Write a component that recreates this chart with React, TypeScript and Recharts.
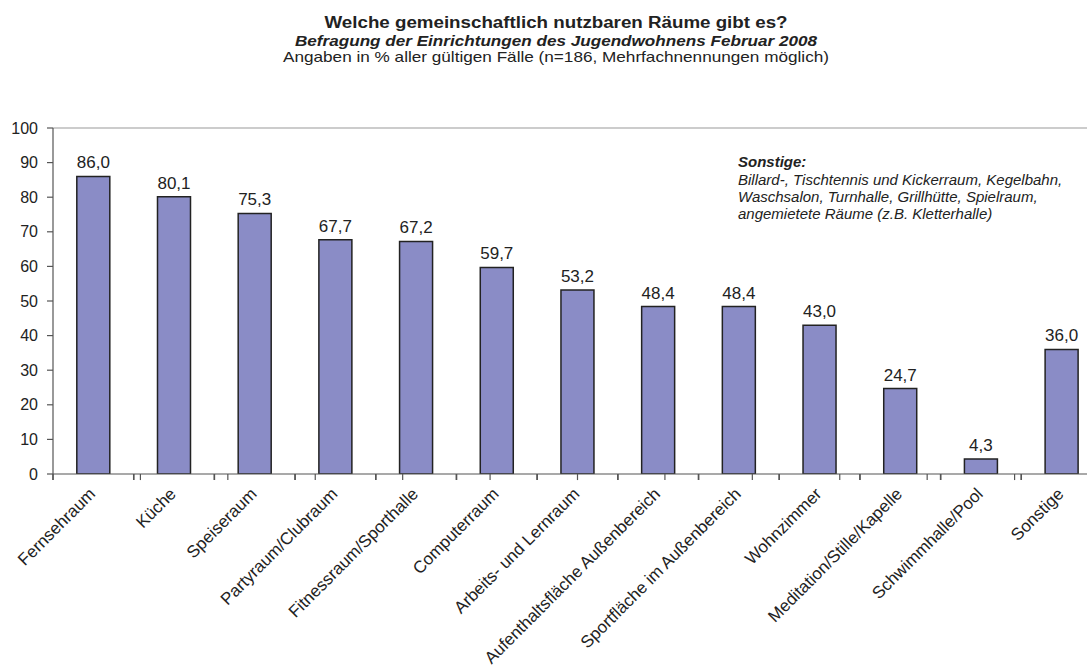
import React from 'react';
import { BarChart, Bar, XAxis, YAxis, LabelList, ReferenceLine } from 'recharts';

const categories = [
  'Fernsehraum',
  'Küche',
  'Speiseraum',
  'Partyraum/Clubraum',
  'Fitnessraum/Sporthalle',
  'Computerraum',
  'Arbeits- und Lernraum',
  'Aufenthaltsfläche Außenbereich',
  'Sportfläche im Außenbereich',
  'Wohnzimmer',
  'Meditation/Stille/Kapelle',
  'Schwimmhalle/Pool',
  'Sonstige',
];
const values = [86.0, 80.1, 75.3, 67.7, 67.2, 59.7, 53.2, 48.4, 48.4, 43.0, 24.7, 4.3, 36.0];
const yTicks = [0, 10, 20, 30, 40, 50, 60, 70, 80, 90, 100];
const edgeTicks = [0, 1, 2, 3, 4, 5, 6, 7, 8, 9, 10, 11, 12, 13];

const titleLines = [
  'Welche gemeinschaftlich nutzbaren Räume gibt es?',
  'Befragung der Einrichtungen des Jugendwohnens Februar 2008',
  'Angaben in % aller gültigen Fälle (n=186, Mehrfachnennungen möglich)',
];
const noteTitle = 'Sonstige:';
const noteLines = [
  'Billard-, Tischtennis und Kickerraum, Kegelbahn,',
  'Waschsalon, Turnhalle, Grillhütte, Spielraum,',
  'angemietete Räume (z.B. Kletterhalle)',
];

const data = categories.map((name, i) => ({ name, value: values[i] }));

const FONT = '"Liberation Sans", Arial, Helvetica, sans-serif';
const TEXT = '#222222';
const AXIS = '#555555';

const CHART_W = 1110;
const MARGIN = { top: 128, right: 8, left: 0, bottom: 0 };
const YAXIS_W = 53;
const HALF_BAND = (CHART_W - MARGIN.left - MARGIN.right - YAXIS_W) / categories.length / 2;

const XTick = (props: any) => {
  const { payload } = props;
  const x = Number(props.x);
  const y = Number(props.y);
  return (
    <g>
      <path
        d={`M${x - HALF_BAND},${y}v6M${x + HALF_BAND},${y}v6`}
        stroke={AXIS}
        strokeWidth={1.4}
        fill="none"
      />
      <g transform={`translate(${x + 3},${y + 21})`}>
        <text
          x={0}
          y={0}
          textAnchor="end"
          transform="rotate(-45)"
          fontSize={17}
          fontFamily={FONT}
          fill={TEXT}
        >
          {payload.value}
        </text>
      </g>
    </g>
  );
};

const fmt = (v: any) => Number(v).toFixed(1).replace('.', ',');

export default function App() {
  return (
    <div
      style={{
        position: 'absolute',
        left: 0,
        top: 0,
        width: 1087,
        height: 668,
        overflow: 'hidden',
        background: '#ffffff',
        fontFamily: FONT,
      }}
    >
      <BarChart
        width={CHART_W}
        height={668}
        data={data}
        margin={MARGIN}
        barCategoryGap="29.5%"
      >
        <XAxis
          dataKey="name"
          height={194}
          interval={0}
          tickLine={false}
          tickSize={0}
          tickMargin={0}
          axisLine={{ stroke: AXIS, strokeWidth: 1.2 }}
          tick={<XTick />}
        />
        <XAxis
          xAxisId="edges"
          type="number"
          domain={[0, 13]}
          ticks={edgeTicks}
          hide
          allowDataOverflow
        />
        <YAxis
          width={YAXIS_W}
          domain={[0, 100]}
          ticks={yTicks}
          interval={0}
          tickSize={6}
          tickMargin={9}
          allowDataOverflow
          axisLine={{ stroke: AXIS, strokeWidth: 1.2 }}
          tickLine={{ stroke: AXIS, strokeWidth: 1.2 }}
          tick={{ fontSize: 16, fontFamily: FONT, fill: TEXT }}
        />
        <ReferenceLine y={100} stroke="#999999" strokeWidth={1.2} />
        {edgeTicks.map((t) => (
          <ReferenceLine
            key={`edge-${t}`}
            xAxisId="edges"
            segment={[
              { x: t, y: 0 },
              { x: t, y: -1.75 },
            ]}
            ifOverflow="visible"
            stroke={AXIS}
            strokeWidth={1.2}
          />
        ))}
        <Bar
          dataKey="value"
          fill="#8a8cc6"
          stroke="#222222"
          strokeWidth={1.5}
          isAnimationActive={false}
        >
          <LabelList
            dataKey="value"
            position="top"
            offset={8}
            formatter={fmt}
            style={{ fontSize: 17, fontFamily: FONT, fill: TEXT }}
          />
        </Bar>
      </BarChart>
      <svg
        width={1087}
        height={668}
        style={{ position: 'absolute', left: 0, top: 0, pointerEvents: 'none' }}
      >
        <text x={556} y={28} textAnchor="middle" fontSize={16} fontWeight="bold" fontFamily={FONT} fill={TEXT}
          textLength={463} lengthAdjust="spacingAndGlyphs">
          {titleLines[0]}
        </text>
        <text x={556} y={46} textAnchor="middle" fontSize={15} fontWeight="bold" fontStyle="italic" fontFamily={FONT} fill={TEXT}
          textLength={522} lengthAdjust="spacingAndGlyphs">
          {titleLines[1]}
        </text>
        <text x={556} y={62} textAnchor="middle" fontSize={15} fontFamily={FONT} fill={TEXT}
          textLength={546} lengthAdjust="spacingAndGlyphs">
          {titleLines[2]}
        </text>
        <text x={738} y={167} fontSize={15} fontWeight="bold" fontStyle="italic" fontFamily={FONT} fill={TEXT}>
          {noteTitle}
        </text>
        {noteLines.map((l, i) => (
          <text key={i} x={738} y={185 + i * 17} fontSize={15} fontStyle="italic" fontFamily={FONT} fill={TEXT}>
            {l}
          </text>
        ))}
      </svg>
    </div>
  );
}
